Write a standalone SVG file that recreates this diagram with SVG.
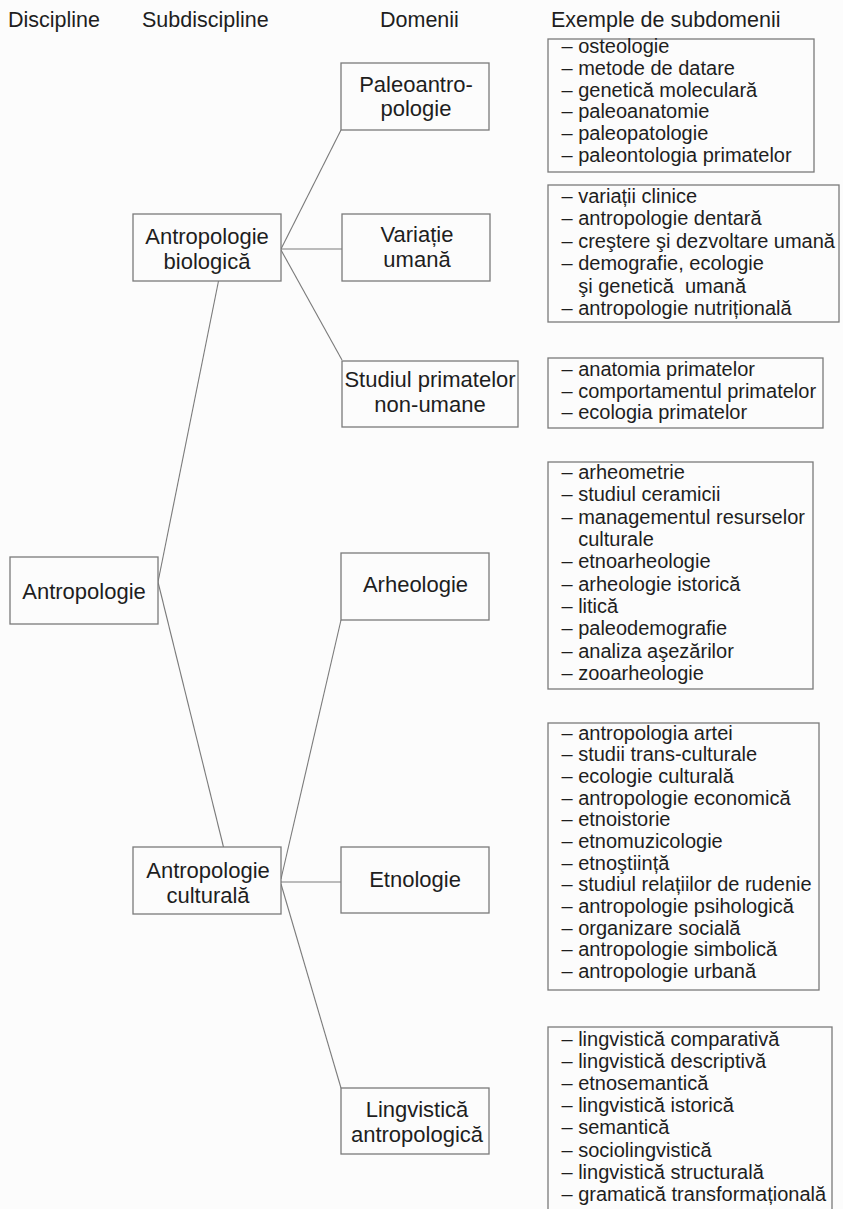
<svg xmlns="http://www.w3.org/2000/svg" width="843" height="1209" viewBox="0 0 843 1209">
<style>
  .bg{fill:#fcfcfc}
  .box{fill:#fcfcfc;stroke:#7a7a7a;stroke-width:1.3}
  .con{stroke:#7a7a7a;stroke-width:1.1;fill:none}
  .hd{font-family:"Liberation Sans",Arial,sans-serif;font-size:21.5px;fill:#1e1e1e}
  .nt{font-family:"Liberation Sans",Arial,sans-serif;font-size:22px;fill:#1e1e1e;text-anchor:middle}
  .lt{font-family:"Liberation Sans",Arial,sans-serif;font-size:20px;fill:#1e1e1e;white-space:pre}
</style>
<rect class="bg" x="0" y="0" width="843" height="1209"/>

<g id="headers">
  <text class="hd" x="8" y="26.5">Discipline</text>
  <text class="hd" x="142" y="26.5">Subdiscipline</text>
  <text class="hd" x="380" y="26.5">Domenii</text>
  <text class="hd" x="551" y="26.5">Exemple de subdomenii</text>
</g>

<g id="connectors">
  <line class="con" x1="281" y1="249" x2="341" y2="130"/>
  <line class="con" x1="281" y1="249" x2="342" y2="249"/>
  <line class="con" x1="281" y1="250" x2="342" y2="360"/>
  <line class="con" x1="218.5" y1="281" x2="158" y2="582"/>
  <line class="con" x1="158" y1="582" x2="223.5" y2="847"/>
  <line class="con" x1="281" y1="879" x2="341" y2="620"/>
  <line class="con" x1="281" y1="882" x2="341" y2="882"/>
  <line class="con" x1="281" y1="884" x2="341" y2="1088"/>
</g>

<g id="node-antropologie">
  <rect class="box" x="10" y="557" width="148" height="67"/>
  <text class="nt" x="84" y="599">Antropologie</text>
</g>

<g id="node-antropologie-biologica">
  <rect class="box" x="133" y="214" width="148" height="67"/>
  <text class="nt" x="207" y="244">Antropologie</text>
  <text class="nt" x="207" y="269">biologică</text>
</g>

<g id="node-antropologie-culturala">
  <rect class="box" x="133" y="847" width="148" height="67"/>
  <text class="nt" x="208" y="878">Antropologie</text>
  <text class="nt" x="208" y="903">culturală</text>
</g>

<g id="node-paleoantropologie">
  <rect class="box" x="341" y="63" width="148" height="67"/>
  <text class="nt" x="416" y="92">Paleoantro-</text>
  <text class="nt" x="416" y="116">pologie</text>
</g>

<g id="node-variatie-umana">
  <rect class="box" x="342" y="214" width="148" height="67"/>
  <text class="nt" x="417" y="242">Variație</text>
  <text class="nt" x="417" y="267">umană</text>
</g>

<g id="node-studiul-primatelor">
  <rect class="box" x="342" y="361" width="176" height="66"/>
  <text class="nt" x="430" y="387">Studiul primatelor</text>
  <text class="nt" x="430" y="412">non-umane</text>
</g>

<g id="node-arheologie">
  <rect class="box" x="341" y="553" width="148" height="67"/>
  <text class="nt" x="415.5" y="592">Arheologie</text>
</g>

<g id="node-etnologie">
  <rect class="box" x="341" y="847" width="148" height="66"/>
  <text class="nt" x="415" y="887">Etnologie</text>
</g>

<g id="node-lingvistica-antropologica">
  <rect class="box" x="341" y="1088" width="148" height="66"/>
  <text class="nt" x="417" y="1117">Lingvistică</text>
  <text class="nt" x="417" y="1142">antropologică</text>
</g>

<g id="list-paleoantropologie">
  <rect class="box" x="548" y="39" width="266" height="133"/>
  <text class="lt" x="561.5" y="53">– osteologie</text>
  <text class="lt" x="561.5" y="74.8">– metode de datare</text>
  <text class="lt" x="561.5" y="96.6">– genetică moleculară</text>
  <text class="lt" x="561.5" y="118.4">– paleoanatomie</text>
  <text class="lt" x="561.5" y="140.2">– paleopatologie</text>
  <text class="lt" x="561.5" y="162">– paleontologia primatelor</text>
</g>

<g id="list-variatie-umana">
  <rect class="box" x="548" y="185" width="291" height="137"/>
  <text class="lt" x="561.5" y="203">– variații clinice</text>
  <text class="lt" x="561.5" y="225.4">– antropologie dentară</text>
  <text class="lt" x="561.5" y="247.8">– creştere şi dezvoltare umană</text>
  <text class="lt" x="561.5" y="270.2">– demografie, ecologie</text>
  <text class="lt" x="578.2" y="292.6">şi genetică  umană</text>
  <text class="lt" x="561.5" y="315">– antropologie nutrițională</text>
</g>

<g id="list-studiul-primatelor">
  <rect class="box" x="548" y="358" width="275" height="70"/>
  <text class="lt" x="561.5" y="376">– anatomia primatelor</text>
  <text class="lt" x="561.5" y="397.7">– comportamentul primatelor</text>
  <text class="lt" x="561.5" y="419.4">– ecologia primatelor</text>
</g>

<g id="list-arheologie">
  <rect class="box" x="548" y="462" width="265" height="227"/>
  <text class="lt" x="561.5" y="479">– arheometrie</text>
  <text class="lt" x="561.5" y="501.3">– studiul ceramicii</text>
  <text class="lt" x="561.5" y="523.7">– managementul resurselor</text>
  <text class="lt" x="578.2" y="546">culturale</text>
  <text class="lt" x="561.5" y="568.3">– etnoarheologie</text>
  <text class="lt" x="561.5" y="590.7">– arheologie istorică</text>
  <text class="lt" x="561.5" y="613">– litică</text>
  <text class="lt" x="561.5" y="635.3">– paleodemografie</text>
  <text class="lt" x="561.5" y="657.7">– analiza aşezărilor</text>
  <text class="lt" x="561.5" y="680">– zooarheologie</text>
</g>

<g id="list-etnologie">
  <rect class="box" x="548" y="723" width="271" height="267"/>
  <text class="lt" x="561.5" y="739.5">– antropologia artei</text>
  <text class="lt" x="561.5" y="761.2">– studii trans-culturale</text>
  <text class="lt" x="561.5" y="782.9">– ecologie culturală</text>
  <text class="lt" x="561.5" y="804.5">– antropologie economică</text>
  <text class="lt" x="561.5" y="826.2">– etnoistorie</text>
  <text class="lt" x="561.5" y="847.9">– etnomuzicologie</text>
  <text class="lt" x="561.5" y="869.6">– etnoştiință</text>
  <text class="lt" x="561.5" y="891.3">– studiul relațiilor de rudenie</text>
  <text class="lt" x="561.5" y="912.9">– antropologie psihologică</text>
  <text class="lt" x="561.5" y="934.6">– organizare socială</text>
  <text class="lt" x="561.5" y="956.3">– antropologie simbolică</text>
  <text class="lt" x="561.5" y="978">– antropologie urbană</text>
</g>

<g id="list-lingvistica">
  <rect class="box" x="548" y="1027" width="284" height="200"/>
  <text class="lt" x="561.5" y="1046">– lingvistică comparativă</text>
  <text class="lt" x="561.5" y="1068.1">– lingvistică descriptivă</text>
  <text class="lt" x="561.5" y="1090.2">– etnosemantică</text>
  <text class="lt" x="561.5" y="1112.3">– lingvistică istorică</text>
  <text class="lt" x="561.5" y="1134.4">– semantică</text>
  <text class="lt" x="561.5" y="1156.5">– sociolingvistică</text>
  <text class="lt" x="561.5" y="1178.6">– lingvistică structurală</text>
  <text class="lt" x="561.5" y="1200.7">– gramatică transformațională</text>
</g>
</svg>
